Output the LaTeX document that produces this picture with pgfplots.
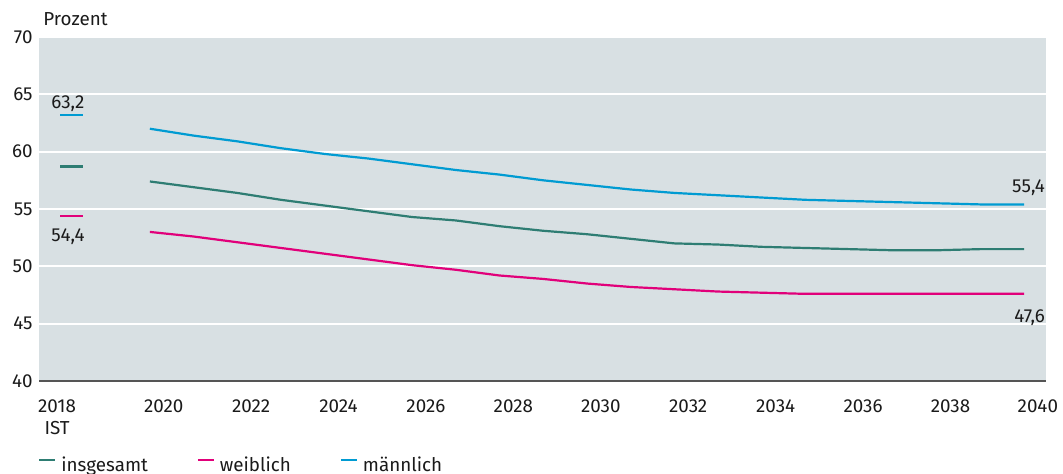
\documentclass[border=0pt]{standalone}
\usepackage{pgfplots}
\usepackage{pgfplotstable}
\pgfplotsset{compat=1.18}
\usepackage{fontspec}
\setmainfont{Fira Sans}
\definecolor{bgc}{RGB}{216,224,227}
\definecolor{cblue}{RGB}{0,155,210}
\definecolor{cgreen}{RGB}{46,125,115}
\definecolor{cmag}{RGB}{225,0,122}
\definecolor{cline}{RGB}{85,85,85}
\definecolor{ctext}{RGB}{26,26,26}

% Prognose 2020-2040
\pgfplotstableread{
year total female male
2020 57.4 53.0 62.0
2021 56.9 52.6 61.4
2022 56.4 52.1 60.9
2023 55.8 51.6 60.3
2024 55.3 51.1 59.8
2025 54.8 50.6 59.4
2026 54.3 50.1 58.9
2027 54.0 49.7 58.4
2028 53.5 49.2 58.0
2029 53.1 48.9 57.5
2030 52.8 48.5 57.1
2031 52.4 48.2 56.7
2032 52.0 48.0 56.4
2033 51.9 47.8 56.2
2034 51.7 47.7 56.0
2035 51.6 47.6 55.8
2036 51.5 47.6 55.7
2037 51.4 47.6 55.6
2038 51.4 47.6 55.5
2039 51.5 47.6 55.4
2040 51.5 47.6 55.4
}\prognose

\begin{document}
\fontsize{9.4pt}{11pt}\selectfont
\begin{tikzpicture}
\useasboundingbox (-19.5pt,-46.5pt) rectangle (512pt,190.5pt);
\begin{axis}[
  at={(0,0)}, anchor=south west,
  scale only axis, width=503.5pt, height=172pt,
  xmin=2017.147, xmax=2040.187, ymin=40, ymax=70,
  clip mode=individual,
  axis background/.style={fill=bgc},
  axis line style={draw=none},
  major tick length=0pt,
  ytick={40,45,...,70},
  xtick={2017.56,2020,2022,...,2040},
  xticklabels={{2018\\IST},2020,2022,2024,2026,2028,2030,2032,2034,2036,2038,2040},
  ymajorgrids, grid style={white, line width=1pt},
  tick label style={font=\fontsize{9.4pt}{11pt}\selectfont, text=ctext},
  yticklabel style={anchor=east, inner sep=0pt, xshift=-3pt},
  xticklabel style={anchor=north, inner sep=0pt, yshift=-9pt, align=center},
  /pgf/number format/assume math mode=true,
  /pgf/number format/1000 sep={},
  legend style={at={(rel axis cs:0,0)}, anchor=north west, xshift=-0.5pt, yshift=-37.5pt,
    draw=none, fill=none, inner sep=0pt, font=\fontsize{9.4pt}{11pt}\selectfont, text=ctext,
    legend columns=3,
    /tikz/every odd column/.append style={column sep=2.5pt},
    /tikz/every even column/.append style={column sep=24.5pt},
    nodes={inner sep=0pt}},
  legend cell align=left,
  legend image code/.code={\draw[#1, line width=1pt] (0pt,2.5pt) -- (8pt,2.5pt);},
  every axis plot/.append style={line width=1.1pt},
]
\addplot[cgreen] table[x expr=\thisrow{year}-0.316, y=total] {\prognose};
\addlegendentry{insgesamt}
\addplot[cmag] table[x expr=\thisrow{year}-0.316, y=female] {\prognose};
\addlegendentry{weiblich}
\addplot[cblue] table[x expr=\thisrow{year}-0.316, y=male] {\prognose};
\addlegendentry{männlich}
% IST 2018
\addplot[cblue, forget plot] coordinates {(2017.63,63.2) (2018.15,63.2)};
\addplot[cgreen, forget plot] coordinates {(2017.63,58.7) (2018.15,58.7)};
\addplot[cmag, forget plot] coordinates {(2017.63,54.4) (2018.15,54.4)};
\draw[cline, line width=1pt] (rel axis cs:0,0) -- (rel axis cs:1,0);
\node[anchor=base, inner sep=0pt, text=ctext, yshift=3pt] at (axis cs:2017.81,63.2) {63,2};
\node[anchor=base, inner sep=0pt, text=ctext, yshift=-13pt] at (axis cs:2017.81,54.4) {54,4};
\node[anchor=base east, inner sep=0pt, text=ctext, yshift=5.8pt] at (axis cs:2040.17,55.4) {55,4};
\node[anchor=base east, inner sep=0pt, text=ctext, yshift=-14.5pt] at (axis cs:2040.17,47.6) {47,6};
\node[anchor=base west, inner sep=0pt, text=ctext, xshift=2pt, yshift=5.5pt] at (rel axis cs:0,1) {Prozent};
\end{axis}
\end{tikzpicture}
\end{document}
